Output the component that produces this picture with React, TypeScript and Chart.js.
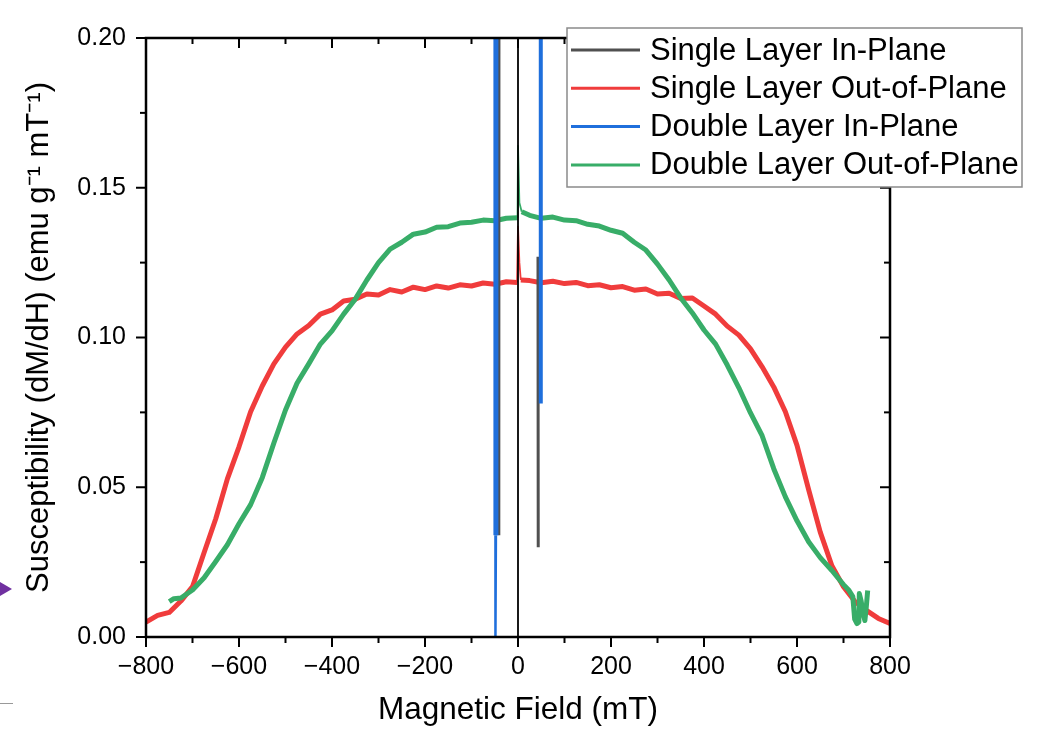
import React, { useEffect, useRef } from "react";
import { Chart, registerables } from "chart.js";

Chart.register(...registerables);

// ---- Data ----
const xTicks = [-800, -600, -400, -200, 0, 200, 400, 600, 800];
const xMinorTicks = [-700, -500, -300, -100, 100, 300, 500, 700];
const yTicks = [0, 0.05, 0.1, 0.15, 0.2];
const yMinorTicks = [0.025, 0.075, 0.125, 0.175];

const legendLabels = [
  "Single Layer In-Plane",
  "Single Layer Out-of-Plane",
  "Double Layer In-Plane",
  "Double Layer Out-of-Plane",
];

// Single Layer In-Plane (dark grey) – narrow switching spikes
const singleInField = [-41, -41, -41.5, null, 43, 43.5];
const singleInSusc = [0.2, 0.092, 0.034, null, 0.127, 0.03];

// Single Layer Out-of-Plane (red)
const singleOutField = [
  -800, -775, -750, -725, -700, -675, -650, -625, -600, -575, -550, -525, -500,
  -475, -450, -425, -400, -375, -350, -325, -300, -275, -250, -225, -200, -175,
  -150, -125, -100, -75, -50, -25, -2, 0, 3, 6, 25, 50, 75, 100, 125, 150, 175,
  200, 225, 250, 275, 300, 325, 350, 375, 400, 425, 450, 475, 500, 525, 550,
  575, 600, 625, 650, 675, 700, 725, 750, 775, 800,
];
const singleOutSusc = [
  0.005, 0.0072, 0.0082, 0.012, 0.0168, 0.0282, 0.0395, 0.0528, 0.0635, 0.0752,
  0.0838, 0.0912, 0.0968, 0.1012, 0.104, 0.1078, 0.1092, 0.1122, 0.1128, 0.1145,
  0.1142, 0.116, 0.1152, 0.1168, 0.116, 0.1172, 0.1165, 0.1176, 0.1172, 0.1182,
  0.1178, 0.1186, 0.1184, 0.137, 0.125, 0.1192, 0.119, 0.1183, 0.1188, 0.118,
  0.1184, 0.1173, 0.1176, 0.1166, 0.117, 0.1158, 0.1162, 0.1145, 0.1148, 0.113,
  0.1132, 0.1105, 0.1078, 0.1038, 0.1008, 0.0962, 0.0902, 0.0835, 0.0752, 0.064,
  0.0492, 0.035, 0.0238, 0.0168, 0.0118, 0.0088, 0.0062, 0.0045,
];

// Double Layer In-Plane (blue) – switching spikes
const doubleInField = [-47.5, -47.5, -48.5, null, 49, 49];
const doubleInSusc = [0.2, 0.034, 0.0, null, 0.2, 0.078];

// Double Layer Out-of-Plane (green)
const doubleOutField = [
  -750, -740, -725, -700, -675, -650, -625, -600, -575, -550, -525, -500, -475,
  -450, -425, -400, -375, -350, -325, -300, -275, -250, -225, -200, -175, -150,
  -125, -100, -75, -50, -25, -1, 0, 3, 8, 25, 50, 75, 100, 125, 150, 175, 200,
  225, 250, 275, 300, 325, 350, 375, 400, 425, 450, 475, 500, 525, 550, 575,
  600, 625, 650, 675, 700, 712, 720, 724, 729, 733, 734, 738, 742, 746, 749, 752,
];
const doubleOutSusc = [
  0.0118, 0.0128, 0.013, 0.0157, 0.0198, 0.0252, 0.0308, 0.0378, 0.0442, 0.0532,
  0.0648, 0.0758, 0.0848, 0.0912, 0.0978, 0.1022, 0.1078, 0.1128, 0.1192, 0.125,
  0.1295, 0.1318, 0.1345, 0.1352, 0.1368, 0.137, 0.1382, 0.1385, 0.1392, 0.139,
  0.1398, 0.14, 0.164, 0.145, 0.142, 0.1408, 0.1398, 0.1402, 0.1392, 0.139,
  0.1378, 0.1372, 0.1358, 0.1348, 0.1318, 0.1292, 0.1245, 0.1192, 0.1132,
  0.1082, 0.1025, 0.0978, 0.0908, 0.0832, 0.0748, 0.0672, 0.0562, 0.0468,
  0.0388, 0.0318, 0.0265, 0.0222, 0.0175, 0.0155, 0.0135, 0.006, 0.0045, 0.005,
  0.0145, 0.012, 0.008, 0.0055, 0.01, 0.0155,
];

// Vertical reference line at zero field
const zeroLineField = [0, 0];
const zeroLineSusc = [0, 0.2];

const colors = ["#505050", "#F03C3C", "#1F6FDC", "#38AD68"];

const toPoints = (xs: (number | null)[], ys: (number | null)[]) =>
  xs.map((x, i) => ({ x: x as number, y: ys[i] as number }));

const FONT = "'Liberation Sans', Arial, Helvetica, sans-serif";

const framePlugin = {
  id: "frame",
  afterDatasetsDraw(chart: any) {
    const { ctx, chartArea } = chart;
    const { left, right, top, bottom } = chartArea;
    const xs = chart.scales.x;
    const ys = chart.scales.y;
    ctx.save();
    ctx.strokeStyle = "#000";
    ctx.lineCap = "butt";
    const seg = (x1: number, y1: number, x2: number, y2: number) => {
      ctx.beginPath();
      ctx.moveTo(x1, y1);
      ctx.lineTo(x2, y2);
      ctx.stroke();
    };
    ctx.lineWidth = 2;
    const MAJ = 10;
    const MIN = 6;
    xTicks.forEach((v) => {
      const p = xs.getPixelForValue(v);
      seg(p, bottom, p, bottom + MAJ);
      seg(p, top, p, top + MAJ);
    });
    xMinorTicks.forEach((v) => {
      const p = xs.getPixelForValue(v);
      seg(p, bottom, p, bottom + MIN);
      seg(p, top, p, top + MIN);
    });
    yTicks.forEach((v) => {
      const p = ys.getPixelForValue(v);
      seg(left - MAJ, p, left, p);
      seg(right - MAJ, p, right, p);
    });
    yMinorTicks.forEach((v) => {
      const p = ys.getPixelForValue(v);
      seg(left - MIN, p, left, p);
      seg(right - MIN, p, right, p);
    });
    ctx.lineWidth = 2.5;
    ctx.strokeRect(left, top, right - left, bottom - top);

    // small artefacts at left edge of the original picture
    ctx.fillStyle = "#7030A0";
    ctx.beginPath();
    ctx.moveTo(0, 582);
    ctx.lineTo(12, 589);
    ctx.lineTo(0, 596);
    ctx.closePath();
    ctx.fill();
    ctx.strokeStyle = "#999";
    ctx.lineWidth = 1;
    seg(0, 703.5, 13, 703.5);
    ctx.restore();
  },
  afterDraw(chart: any) {
    const { ctx } = chart;
    ctx.save();
    const bx = 567,
      by = 28,
      bw = 455,
      bh = 159;
    ctx.fillStyle = "#fff";
    ctx.fillRect(bx, by, bw, bh);
    ctx.strokeStyle = "#8a8a8a";
    ctx.lineWidth = 1.5;
    ctx.strokeRect(bx, by, bw, bh);
    ctx.font = `31px ${FONT}`;
    ctx.textBaseline = "middle";
    ctx.textAlign = "left";
    legendLabels.forEach((label, i) => {
      const yy = 50 + i * 38.3;
      ctx.strokeStyle = colors[i];
      ctx.lineWidth = 3;
      ctx.beginPath();
      ctx.moveTo(571, yy);
      ctx.lineTo(640, yy);
      ctx.stroke();
      ctx.fillStyle = "#000";
      ctx.fillText(label, 650, yy + 1);
    });
    ctx.restore();
  },
};

const spikeWidth = (thin: number, thick: number) => (c: any) =>
  Math.abs(c.p0.parsed.x) < 9 && Math.abs(c.p1.parsed.x) < 9 ? thin : thick;

export default function App() {
  const ref = useRef<HTMLCanvasElement | null>(null);
  useEffect(() => {
    if (!ref.current) return;
    const chart = new Chart(ref.current, {
      type: "scatter",
      data: {
        datasets: [
          {
            label: "zero",
            data: toPoints(zeroLineField, zeroLineSusc),
            showLine: true,
            borderColor: "#000",
            borderWidth: 1.8,
            pointRadius: 0,
            order: 1,
          },
          {
            label: legendLabels[2],
            data: toPoints(doubleInField, doubleInSusc),
            showLine: true,
            spanGaps: false,
            borderColor: colors[2],
            borderWidth: 5,
            pointRadius: 0,
            order: 2,
            segment: {
              borderWidth: (c: any) =>
                c.p0.parsed.y < 0.04 && c.p1.parsed.y < 0.04 ? 2.5 : c.p0.parsed.x > 0 ? 4 : 5,
            },
          },
          {
            label: legendLabels[0],
            data: toPoints(singleInField, singleInSusc),
            showLine: true,
            spanGaps: false,
            borderColor: colors[0],
            borderWidth: 3,
            pointRadius: 0,
            order: 3,
          },
          {
            label: legendLabels[3],
            data: toPoints(doubleOutField, doubleOutSusc),
            showLine: true,
            borderColor: colors[3],
            borderWidth: 5,
            borderJoinStyle: "round",
            pointRadius: 0,
            order: 4,
            segment: { borderWidth: spikeWidth(1.8, 5) },
          },
          {
            label: legendLabels[1],
            data: toPoints(singleOutField, singleOutSusc),
            showLine: true,
            borderColor: colors[1],
            borderWidth: 5,
            borderJoinStyle: "round",
            pointRadius: 0,
            order: 5,
            segment: { borderWidth: spikeWidth(1.8, 5) },
          },
        ],
      },
      options: {
        animation: false,
        responsive: true,
        maintainAspectRatio: false,
        layout: { padding: { left: 0, top: 38, right: 147, bottom: 0 } },
        plugins: {
          legend: { display: false },
          tooltip: { enabled: false },
        },
        scales: {
          x: {
            type: "linear",
            min: -800,
            max: 800,
            afterFit: (s: any) => {
              s.height = 98;
            },
            afterBuildTicks: (s: any) => {
              s.ticks = xTicks.map((v) => ({ value: v }));
            },
            grid: { display: false, drawTicks: false },
            border: { display: false },
            ticks: {
              color: "#000",
              padding: 15,
              maxRotation: 0,
              autoSkip: false,
              font: { family: FONT, size: 25 },
              callback: (v: any) => String(v).replace("-", "\u2212"),
            },
            title: {
              display: true,
              text: "Magnetic Field (mT)",
              color: "#000",
              font: { family: FONT, size: 31.5 },
              padding: { top: 0, bottom: 6 },
            },
          },
          y: {
            type: "linear",
            min: 0,
            max: 0.2,
            afterFit: (s: any) => {
              s.width = 146;
            },
            afterBuildTicks: (s: any) => {
              s.ticks = yTicks.map((v) => ({ value: v }));
            },
            grid: { display: false, drawTicks: false },
            border: { display: false },
            ticks: {
              color: "#000",
              padding: 20,
              autoSkip: false,
              font: { family: FONT, size: 25 },
              callback: (v: any) => Number(v).toFixed(2),
            },
            title: {
              display: true,
              text: "Susceptibility (dM/dH) (emu g\u207B\u00B9 mT\u207B\u00B9)",
              color: "#000",
              font: { family: FONT, size: 31 },
              padding: { top: 21, bottom: 0 },
            },
          },
        },
      },
      plugins: [framePlugin],
    });
    return () => chart.destroy();
  }, []);

  return (
    <div
      style={{
        position: "absolute",
        left: 0,
        top: 0,
        width: 1037,
        height: 735,
        background: "#fff",
      }}
    >
      <canvas ref={ref} />
    </div>
  );
}
